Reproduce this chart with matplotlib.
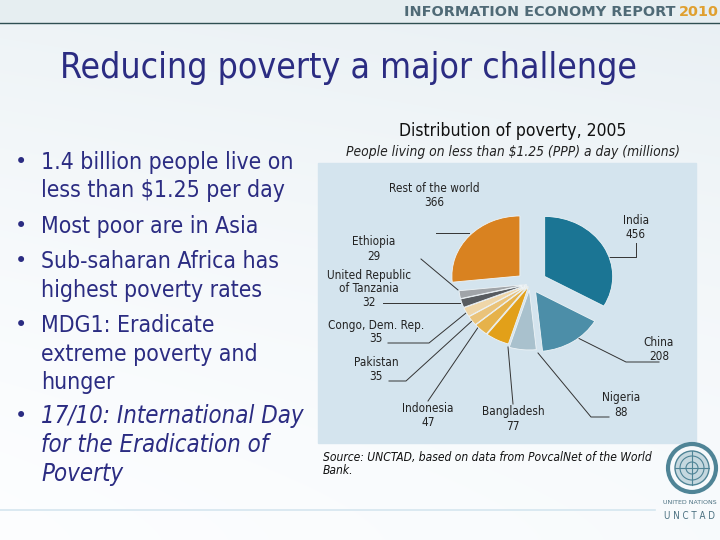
import matplotlib.pyplot as plt
import numpy as np
from matplotlib.patches import Rectangle, Circle

# pie data: people living on less than $1.25 a day, millions (2005)
countries = ["India", "China", "Nigeria", "Bangladesh", "Indonesia", "Pakistan",
             "Congo, Dem. Rep.", "United Republic\nof Tanzania", "Ethiopia",
             "Rest of the world"]
millions = [456, 208, 88, 77, 47, 35, 35, 32, 29, 366]
colors = ["#1b7594", "#4c8ea8", "#a9c1cd", "#e2a019", "#e6b24a", "#eac37a",
          "#efd6a8", "#575b5f", "#a0a4a8", "#d98220"]
explode = [0.25, 0.15, 0.1, 0.05, 0.05, 0.05, 0.05, 0.05, 0.05, 0.2]

# label centres and leader paths, in slide pixels (y down)
label_xy = [(636, 228), (659, 350), (621, 405), (513, 419), (428, 415),
            (376, 370), (376, 332), (369, 289), (374, 249), (434, 195)]
leaders = [
    [(636, 243), (636, 257), (604, 257)],
    [(659, 362), (626, 362), (578, 338)],
    [(609, 417), (591, 417), (538, 353)],
    [(513, 404), (508, 347)],
    [(428, 401), (479, 326)],
    [(389, 381), (406, 381), (473, 320)],
    [(388, 343), (429, 343), (466, 313)],
    [(383, 303), (460, 303)],
    [(421, 259), (458, 290)],
    [(436, 233), (469, 233)],
]

bullet_lines = [
    ["1.4 billion people live on", "less than $1.25 per day"],
    ["Most poor are in Asia"],
    ["Sub-saharan Africa has", "highest poverty rates"],
    ["MDG1: Eradicate", "extreme poverty and", "hunger"],
    ["17/10: International Day", "for the Eradication of", "Poverty"],
]
bullet_y = [162, 226, 261, 325, 416]

NAVY = "#2b2c82"
TEAL = "#4f8496"
W, H = 720, 540

fig = plt.figure(figsize=(7.2, 5.4), dpi=100)
ax = fig.add_axes([0, 0, 1, 1])
ax.set_xlim(0, W)
ax.set_ylim(H, 0)
ax.axis("off")

# soft slide background
yy, xx = np.mgrid[0:H, 0:W]
f = 0.5 * (1 - yy / H) ** 1.5 + 0.15 * (xx / W)
f = np.clip(f, 0, 1)[..., None]
bg = (1 - f) * np.array([0.99, 0.995, 1.0]) + f * np.array([0.87, 0.91, 0.93])
ax.imshow(bg, extent=(0, W, H, 0), zorder=0)

# header band
ax.add_patch(Rectangle((0, 0), W, 23, color="#e6eef1", zorder=1))
ax.plot([0, W], [23, 23], color="#2f4f52", lw=1, zorder=2)
ax.text(675, 12.5, "INFORMATION ECONOMY REPORT", ha="right", va="center",
        fontsize=10.4, fontweight="bold", color="#4f6a76", zorder=3)
ax.text(679, 12.5, "2010", ha="left", va="center", fontsize=10.4,
        fontweight="bold", color="#e0a030", zorder=3)

ax.text(348, 68, "Reducing poverty a major challenge", ha="center", va="center",
        fontsize=25.5, color=NAVY, fontstretch="condensed", zorder=3)

# bullets
for lines, y0 in zip(bullet_lines, bullet_y):
    italic = lines[0].startswith("17/10")
    size = 17.2 if italic else 16.5
    step = 29
    ax.text(21, y0, "•", ha="center", va="center", fontsize=15, color=NAVY)
    for i, line in enumerate(lines):
        ax.text(41, y0 + i * step, line, ha="left", va="center", fontsize=size,
                color=NAVY, style="italic" if italic else "normal",
                fontstretch="condensed")

# chart heading
ax.text(513, 131, "Distribution of poverty, 2005", ha="center", va="center",
        fontsize=12.6, color="#111111", fontstretch="condensed")
ax.text(513, 152, "People living on less than $1.25 (PPP) a day (millions)",
        ha="center", va="center", fontsize=9.9, style="italic",
        color="#222222", fontstretch="condensed")
ax.add_patch(Rectangle((318, 163), 378, 280, color="#d4e4ee", zorder=1))

for (tx, ty), name, val, path in zip(label_xy, countries, millions, leaders):
    px, py = zip(*path)
    ax.plot(px, py, color="#333333", lw=0.7, zorder=2)
    ax.text(tx, ty, f"{name}\n{val}", ha="center", va="center", fontsize=8.5,
            color="#222222", linespacing=1.1, zorder=3, fontstretch="condensed")

ax.text(323, 464, "Source: UNCTAD, based on data from PovcalNet of the World\nBank.",
        ha="left", va="center", fontsize=8.65, style="italic", color="#111111",
        fontstretch="condensed", linespacing=1.0)

# bottom rule and UN emblem
ax.plot([0, 655], [510, 510], color="#d5e6ef", lw=1.2, zorder=2)
ax.add_patch(Circle((692, 468), 24, fill=False, ec=TEAL, lw=3, zorder=3))
ax.add_patch(Circle((692, 468), 17, fill=True, fc="#c5d8df", ec=TEAL, lw=1, zorder=3))
for r in (6, 12):
    ax.add_patch(Circle((692, 468), r, fill=False, ec=TEAL, lw=0.8, zorder=4))
ax.plot([675, 709], [468, 468], color=TEAL, lw=0.8, zorder=4)
ax.plot([692, 692], [451, 485], color=TEAL, lw=0.8, zorder=4)
ax.text(690, 503, "UNITED NATIONS", ha="center", va="center", fontsize=4.5,
        color="#4a7080")
ax.text(690, 516, "U N C T A D", ha="center", va="center", fontsize=7,
        color="#4a7080", fontstretch="condensed")

# pie on its own axes, squashed a little to suggest the tilted original
cx, cy, rx, ry, lim = 530, 284, 68, 60, 1.6
ax_pie = fig.add_axes([(cx - lim * rx) / W, (H - cy - lim * ry) / H,
                       2 * lim * rx / W, 2 * lim * ry / H])
ax_pie.pie(millions, colors=colors, explode=explode, startangle=90,
           counterclock=False, wedgeprops=dict(edgecolor="#eef4f7", linewidth=0.6))
ax_pie.set_aspect("auto")
ax_pie.set_xlim(-lim, lim)
ax_pie.set_ylim(-lim, lim)
ax_pie.axis("off")

fig.savefig("out.png", dpi=100)
